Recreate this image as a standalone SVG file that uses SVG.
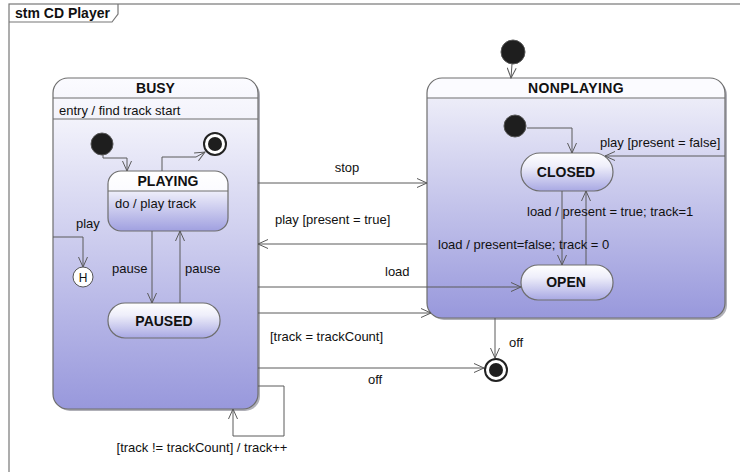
<svg xmlns="http://www.w3.org/2000/svg" width="740" height="472" viewBox="0 0 740 472">
<style>
text{font-family:"Liberation Sans",Arial,sans-serif;font-size:13px;fill:#111}
.t{font-weight:bold;font-size:14px;text-anchor:middle}
.st{stroke:#6e6e6e;stroke-width:1.2}
.sh{fill:#b0b0b8}
.cn path{fill:none;stroke:#5a5a5a;stroke-width:1;marker-end:url(#a)}
.init{fill:#1e1e1e;stroke:#555;stroke-width:1}
.fo{fill:#fff;stroke:#222;stroke-width:2}
.fi{fill:#1e1e1e}
</style>
<defs>
<marker id="a" markerUnits="userSpaceOnUse" markerWidth="12" markerHeight="10" refX="11" refY="5" orient="auto">
<path d="M1,0.5 L11,5 L1,9.5" fill="none" stroke="#5a5a5a" stroke-width="1"/>
</marker>
<linearGradient id="gBusy" x1="0" y1="0" x2="0" y2="1">
<stop offset="0" stop-color="#fbfbff"/><stop offset="0.12" stop-color="#f3f3fb"/><stop offset="1" stop-color="#9898dc"/>
</linearGradient>
<linearGradient id="gNon" x1="0" y1="0" x2="0" y2="1">
<stop offset="0" stop-color="#fbfbff"/><stop offset="0.08" stop-color="#fbfbff"/><stop offset="0.09" stop-color="#ececf8"/><stop offset="1" stop-color="#9898dc"/>
</linearGradient>
<linearGradient id="gPlay" x1="0" y1="0" x2="0" y2="1">
<stop offset="0" stop-color="#ffffff"/><stop offset="0.33" stop-color="#fbfbff"/><stop offset="0.34" stop-color="#eeeefa"/><stop offset="1" stop-color="#a0a0e0"/>
</linearGradient>
<linearGradient id="gSimple" x1="0" y1="0" x2="0" y2="1">
<stop offset="0" stop-color="#ffffff"/><stop offset="0.35" stop-color="#eeeefa"/><stop offset="1" stop-color="#a8a8e3"/>
</linearGradient>
</defs>
<rect width="740" height="472" fill="#fff"/>
<g id="frame">
<rect x="9" y="4" width="760" height="500" fill="none" stroke="#777" stroke-width="1.2"/>
<path d="M9,22 L112,22 L118,14 L118,4" fill="none" stroke="#777" stroke-width="1.2"/>
<text x="15" y="18" style="font-weight:bold;font-size:14px">stm CD Player</text>
</g>
<g id="BUSY">
<rect class="sh" x="55" y="80" width="205" height="331" rx="15"/>
<rect class="st" x="53" y="78" width="205" height="331" rx="15" fill="url(#gBusy)"/>
<line class="st" x1="53" y1="98" x2="258" y2="98"/>
<line class="st" x1="53" y1="119" x2="258" y2="119"/>
<text class="t" x="155.5" y="93">BUSY</text>
<text x="59" y="115">entry / find track start</text>
</g>
<g id="NONPLAYING">
<rect class="sh" x="429" y="80" width="298" height="240" rx="15"/>
<rect class="st" x="427" y="78" width="298" height="240" rx="15" fill="url(#gNon)"/>
<line class="st" x1="427" y1="98" x2="725" y2="98"/>
<text class="t" x="576" y="93" letter-spacing="0.4">NONPLAYING</text>
</g>
<g id="PLAYING">
<rect class="st" x="108" y="171" width="120" height="60" rx="13" fill="url(#gPlay)"/>
<line class="st" x1="108" y1="191" x2="228" y2="191"/>
<text class="t" x="168" y="186">PLAYING</text>
<text x="115" y="208">do / play track</text>
</g>
<g id="PAUSED">
<rect class="st" x="108" y="303" width="112" height="35" rx="17" fill="url(#gSimple)"/>
<text class="t" x="164" y="326">PAUSED</text>
</g>
<g id="CLOSED">
<rect class="st" x="521" y="153" width="92" height="38" rx="19" fill="url(#gSimple)"/>
<text class="t" x="566" y="177">CLOSED</text>
</g>
<g id="OPEN">
<rect class="st" x="521" y="265" width="92" height="35" rx="17" fill="url(#gSimple)"/>
<text class="t" x="566" y="287">OPEN</text>
</g>
<g id="history">
<circle cx="83" cy="277" r="10" fill="#fff" stroke="#555" stroke-width="1"/>
<text x="83" y="281.5" style="font-size:12px;text-anchor:middle">H</text>
</g>
<g id="initBusy"><circle class="init" cx="102" cy="144" r="11"/></g>
<g id="finalBusy"><circle class="fo" cx="215" cy="144" r="11"/><circle class="fi" cx="215" cy="144" r="7"/></g>
<g id="initTop"><circle class="init" cx="513" cy="52" r="12"/></g>
<g id="initNon"><circle class="init" cx="515" cy="126" r="11"/></g>
<g id="finalMain"><circle class="fo" cx="496" cy="370" r="11"/><circle class="fi" cx="496" cy="370" r="7"/></g>
<g id="connectors" class="cn">
<path d="M103,155 L103,158 L127,158 L127,171"/>
<path d="M162,171 L162,157 L196,157 L205,152"/>
<path d="M152,231 L152,303"/>
<path d="M180,303 L180,231"/>
<path d="M53,237 L83,237 L83,267"/>
<path d="M258,386 L284,386 L284,436 L233,436 L233,409"/>
<path d="M258,183 L427,183"/>
<path d="M427,244 L258,244"/>
<path d="M258,287 L521,287"/>
<path d="M258,313 L431,313"/>
<path d="M258,368 L484,368"/>
<path d="M495,318 L495,358"/>
<path d="M512,64 L511,78"/>
<path d="M527,128 L572,128 L572,153"/>
<path d="M725,156 L605,156"/>
<path d="M562,191 L562,265"/>
<path d="M586,265 L586,191"/>
</g>
<g id="labels">
<text x="76" y="228">play</text>
<text x="112" y="273">pause</text>
<text x="185" y="273">pause</text>
<text x="202" y="452" text-anchor="middle">[track != trackCount] / track++</text>
<text x="347" y="172" text-anchor="middle">stop</text>
<text x="275" y="224">play [present = true]</text>
<text x="385" y="276">load</text>
<text x="270" y="341">[track = trackCount]</text>
<text x="368" y="384">off</text>
<text x="509" y="347">off</text>
<text x="600" y="147">play [present = false]</text>
<text x="527" y="216">load / present = true; track=1</text>
<text x="438" y="249">load / present=false; track = 0</text>
</g>
</svg>
